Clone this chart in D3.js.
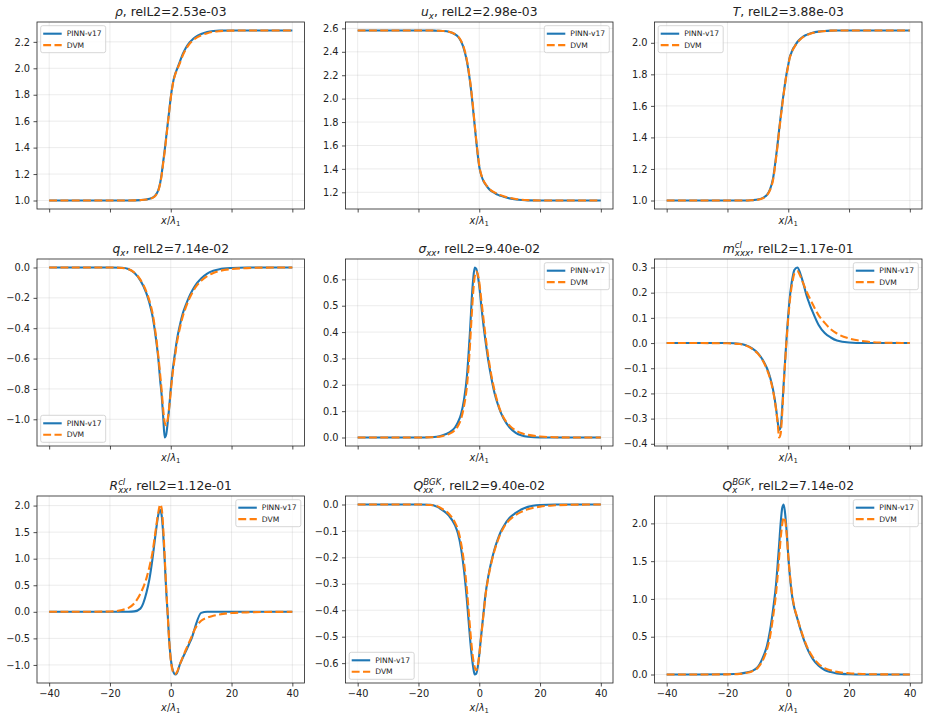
<!DOCTYPE html>
<html>
<head>
<meta charset="utf-8">
<script src="https://cdn.jsdelivr.net/npm/d3@7"></script>
<style>
  body { margin: 0; background: #fff; }
  svg { font-family: "DejaVu Sans", sans-serif; }
</style>
</head>
<body>
<script>

// shared x positions (x / lambda_1) the curves were read at
const xGrid = [-40,-30,-20,-16,-14,-12,-10,-8,-7,-6,-5,-4,-3.5,-3,-2.5,-2,-1.5,-1,-0.5,0,0.5,1,1.5,2,3,4,5,6,7,8,10,12,14,16,20,25,30,40];
const xTicks = [-40, -20, 0, 20, 40];
const seriesNames = ["PINN-v17", "DVM"];

// rho
const rhoPinn = [1.0,1.0,1.0,1.0,1.0,1.001,1.003,1.008,1.013,1.022,1.04,1.085,1.13,1.20,1.29,1.38,1.48,1.58,1.68,1.78,1.86,1.92,1.96,1.99,2.05,2.11,2.155,2.19,2.215,2.235,2.26,2.275,2.282,2.285,2.286,2.286,2.286,2.286];
const rhoDvm  = [1.0,1.0,1.0,1.0,1.0,1.001,1.003,1.007,1.012,1.02,1.037,1.08,1.125,1.19,1.28,1.37,1.47,1.575,1.675,1.775,1.855,1.915,1.955,1.985,2.04,2.10,2.145,2.18,2.205,2.225,2.25,2.266,2.276,2.281,2.285,2.286,2.286,2.286];
const rhoTicks = [1.0, 1.2, 1.4, 1.6, 1.8, 2.0, 2.2];

// u_x
const uPinn = [2.582,2.582,2.582,2.582,2.58,2.578,2.572,2.55,2.53,2.49,2.42,2.31,2.23,2.14,2.03,1.90,1.77,1.64,1.52,1.42,1.36,1.32,1.29,1.27,1.235,1.21,1.195,1.18,1.17,1.162,1.148,1.139,1.134,1.131,1.13,1.13,1.13,1.13];
const uDvm  = [2.582,2.582,2.582,2.582,2.58,2.578,2.572,2.552,2.532,2.495,2.43,2.32,2.24,2.15,2.04,1.92,1.78,1.65,1.53,1.43,1.365,1.325,1.295,1.273,1.24,1.215,1.2,1.186,1.176,1.167,1.153,1.143,1.137,1.133,1.13,1.13,1.13,1.13];
const uTicks = [1.2, 1.4, 1.6, 1.8, 2.0, 2.2, 2.4, 2.6];

// T
const tPinn = [1.0,1.0,1.0,1.0,1.0,1.002,1.006,1.02,1.035,1.07,1.14,1.28,1.36,1.45,1.53,1.61,1.68,1.75,1.81,1.86,1.91,1.935,1.96,1.975,2.005,2.025,2.04,2.05,2.058,2.064,2.071,2.075,2.077,2.078,2.078,2.078,2.078,2.078];
const tDvm  = [1.0,1.0,1.0,1.0,1.0,1.002,1.005,1.018,1.033,1.066,1.13,1.27,1.35,1.44,1.52,1.60,1.675,1.745,1.805,1.855,1.905,1.93,1.955,1.972,2.002,2.022,2.037,2.048,2.056,2.062,2.07,2.074,2.077,2.078,2.078,2.078,2.078,2.078];
const tTicks = [1.0, 1.2, 1.4, 1.6, 1.8, 2.0];

// q_x
const qPinn = [0,0,0,-0.002,-0.01,-0.035,-0.085,-0.17,-0.235,-0.32,-0.45,-0.62,-0.74,-0.84,-0.98,-1.12,-1.10,-1.02,-0.92,-0.80,-0.70,-0.62,-0.55,-0.48,-0.38,-0.30,-0.245,-0.195,-0.155,-0.12,-0.072,-0.04,-0.022,-0.011,-0.003,0,0,0];
const qDvm  = [0,0,0,-0.003,-0.01,-0.033,-0.08,-0.16,-0.22,-0.30,-0.43,-0.60,-0.70,-0.81,-0.93,-1.02,-1.04,-1.00,-0.92,-0.82,-0.72,-0.64,-0.57,-0.50,-0.40,-0.32,-0.26,-0.21,-0.17,-0.135,-0.088,-0.057,-0.036,-0.023,-0.01,-0.004,-0.001,0];
const qTicks = [-1.0, -0.8, -0.6, -0.4, -0.2, 0.0];

// sigma_xx
const sigPinn = [0,0,0,0.001,0.003,0.009,0.018,0.038,0.058,0.088,0.145,0.24,0.32,0.41,0.52,0.60,0.645,0.64,0.615,0.575,0.52,0.465,0.415,0.37,0.29,0.225,0.17,0.13,0.097,0.072,0.038,0.018,0.008,0.003,0,0,0,0];
const sigDvm  = [0,0,0,0.001,0.002,0.006,0.013,0.028,0.044,0.07,0.12,0.20,0.27,0.36,0.46,0.55,0.61,0.63,0.62,0.59,0.54,0.49,0.44,0.39,0.305,0.235,0.18,0.135,0.10,0.076,0.045,0.027,0.016,0.01,0.004,0.001,0,0];
const sigTicks = [0.0, 0.1, 0.2, 0.3, 0.4, 0.5, 0.6];

// m_xxx^cl
const mPinn = [0,0,0,-0.003,-0.009,-0.02,-0.04,-0.075,-0.10,-0.135,-0.185,-0.26,-0.31,-0.345,-0.335,-0.26,-0.16,-0.065,0.03,0.11,0.18,0.23,0.265,0.29,0.30,0.275,0.235,0.19,0.155,0.125,0.072,0.04,0.022,0.01,0.002,0,0,0];
const mDvm  = [0,0,-0.001,-0.004,-0.01,-0.022,-0.042,-0.078,-0.105,-0.14,-0.19,-0.265,-0.315,-0.375,-0.36,-0.28,-0.17,-0.07,0.02,0.10,0.165,0.215,0.25,0.275,0.285,0.265,0.235,0.205,0.18,0.155,0.11,0.08,0.055,0.038,0.018,0.007,0.002,0];
const mTicks = [-0.4, -0.3, -0.2, -0.1, 0.0, 0.1, 0.2, 0.3];

// R_xx^cl
const rPinn = [0,0,0,0,0.001,0.008,0.06,0.36,0.62,1.0,1.46,1.85,1.92,1.82,1.48,0.98,0.40,-0.05,-0.55,-0.88,-1.06,-1.15,-1.18,-1.16,-0.99,-0.86,-0.74,-0.61,-0.48,-0.29,-0.02,0,0,0,0,0,0,0];
const rDvm  = [0,0,0.005,0.035,0.07,0.16,0.34,0.63,0.85,1.12,1.52,1.90,2.02,1.95,1.60,1.05,0.45,-0.05,-0.55,-0.90,-1.08,-1.16,-1.17,-1.14,-0.99,-0.85,-0.71,-0.58,-0.45,-0.32,-0.17,-0.11,-0.075,-0.05,-0.022,-0.01,-0.004,0];
const rTicks = [-1.0, -0.5, 0.0, 0.5, 1.0, 1.5, 2.0];

// Q_xx^BGK
const qxxPinn = [0,0,0,-0.001,-0.008,-0.022,-0.042,-0.078,-0.11,-0.165,-0.25,-0.37,-0.44,-0.51,-0.57,-0.615,-0.643,-0.64,-0.615,-0.57,-0.51,-0.455,-0.40,-0.345,-0.27,-0.215,-0.17,-0.135,-0.105,-0.083,-0.05,-0.032,-0.018,-0.009,-0.002,0,0,0];
const qxxDvm  = [0,0,0,-0.002,-0.006,-0.018,-0.035,-0.068,-0.095,-0.145,-0.22,-0.33,-0.40,-0.47,-0.535,-0.585,-0.615,-0.627,-0.61,-0.57,-0.515,-0.46,-0.405,-0.35,-0.275,-0.22,-0.175,-0.14,-0.11,-0.088,-0.058,-0.04,-0.027,-0.018,-0.008,-0.003,-0.001,0];
const qxxTicks = [-0.6, -0.5, -0.4, -0.3, -0.2, -0.1, 0.0];

// Q_x^BGK
const qbPinn = [0,0,0.003,0.01,0.025,0.045,0.10,0.26,0.38,0.58,0.86,1.20,1.45,1.72,2.0,2.2,2.25,2.12,1.88,1.57,1.32,1.12,0.98,0.88,0.74,0.60,0.475,0.37,0.28,0.21,0.115,0.06,0.032,0.015,0.004,0,0,0];
const qbDvm  = [0,0,0.002,0.008,0.02,0.04,0.09,0.22,0.33,0.50,0.76,1.08,1.30,1.55,1.80,1.98,2.08,2.03,1.85,1.58,1.34,1.15,1.0,0.89,0.75,0.61,0.49,0.385,0.30,0.235,0.14,0.085,0.055,0.035,0.016,0.006,0.002,0];
const qbTicks = [0.0, 0.5, 1.0, 1.5, 2.0];

// titles as math pieces: i = italic, n = normal, sub / sup = small italic
const titles = [
  [["ρ","i"],[", relL2=2.53e-03","n"]],
  [["u","i"],["x","sub"],[", relL2=2.98e-03","n"]],
  [["T","i"],[", relL2=3.88e-03","n"]],
  [["q","i"],["x","sub"],[", relL2=7.14e-02","n"]],
  [["σ","i"],["xx","sub"],[", relL2=9.40e-02","n"]],
  [["m","i"],["cl","sup"],["xxx","sub"],[", relL2=1.17e-01","n"]],
  [["R","i"],["cl","sup"],["xx","sub"],[", relL2=1.12e-01","n"]],
  [["Q","i"],["BGK","sup"],["xx","sub"],[", relL2=9.40e-02","n"]],
  [["Q","i"],["BGK","sup"],["x","sub"],[", relL2=7.14e-02","n"]]
];
const xLabel = [["x","i"],["/","n"],["λ","i"],["1","subn"]];

const pinnSeries = [rhoPinn, uPinn, tPinn, qPinn, sigPinn, mPinn, rPinn, qxxPinn, qbPinn];
const dvmSeries  = [rhoDvm, uDvm, tDvm, qDvm, sigDvm, mDvm, rDvm, qxxDvm, qbDvm];
const yTickSets  = [rhoTicks, uTicks, tTicks, qTicks, sigTicks, mTicks, rTicks, qxxTicks, qbTicks];
const legendLoc  = ["ul", "ur", "ul", "ll", "ur", "ur", "ur", "ll", "ur"];

// Layout
var colX = [37, 345.5, 654.5],
    rowY = [22, 259, 496],
    W = 267.5,
    H = 187;

var blue = "#1f77b4", orange = "#ff7f0e", ink = "#222";

var svg = d3.select("body").append("svg")
   .attr("width", 928)
   .attr("height", 720);
svg.append("rect").attr("width", 928).attr("height", 720).attr("fill", "#fff");

// draws a small mathtext-like string, returns its width
function mathText(g, parts, size) {
    var x = 0, supX = 0, supW = 0, prev = null;
    parts.forEach(function(p) {
        var k = p[1];
        var small = (k === "sub" || k === "sup" || k === "subn");
        var dy = (k === "sub" || k === "subn") ? size * 0.24 : (k === "sup" ? -size * 0.42 : 0);
        var startX = (k === "sub" && prev === "sup") ? supX : x;
        var el = g.append("text")
            .attr("x", startX)
            .attr("y", dy)
            .attr("font-size", small ? size * 0.7 : size)
            .style("font-style", (k === "n" || k === "subn") ? "normal" : "italic")
            .attr("fill", ink)
            .text(p[0]);
        var w = el.node().getComputedTextLength();
        if (k === "sup") { supX = startX; supW = w; x = startX + w; }
        else if (k === "sub" && prev === "sup") { x = supX + Math.max(supW, w); }
        else { x = startX + w; }
        prev = k;
    });
    return x;
}

pinnSeries.forEach(function(pinn, i) {
    var row = Math.floor(i / 3), col = i % 3;
    var left = colX[col], top = rowY[row];
    var dvm = dvmSeries[i];

    // Scales: matplotlib-like 5% margins
    var xScale = d3.scaleLinear().domain([-44, 44]).range([left, left + W]);
    var lo = Math.min(d3.min(pinn), d3.min(dvm)),
        hi = Math.max(d3.max(pinn), d3.max(dvm)),
        pad = (hi - lo) * 0.05;
    var yScale = d3.scaleLinear().domain([lo - pad, hi + pad]).range([top + H, top]);

    var g = svg.append("g");

    // grid
    g.selectAll(".gx").data(xTicks).enter().append("line")
        .attr("x1", function(d) { return xScale(d); })
        .attr("x2", function(d) { return xScale(d); })
        .attr("y1", top).attr("y2", top + H)
        .attr("stroke", "#b0b0b0").attr("stroke-opacity", 0.3).attr("stroke-width", 0.8);
    g.selectAll(".gy").data(yTickSets[i]).enter().append("line")
        .attr("y1", function(d) { return yScale(d); })
        .attr("y2", function(d) { return yScale(d); })
        .attr("x1", left).attr("x2", left + W)
        .attr("stroke", "#b0b0b0").attr("stroke-opacity", 0.3).attr("stroke-width", 0.8);

    // Lines
    var pts = function(vals) { return xGrid.map(function(x, j) { return [x, vals[j]]; }); };
    var line = d3.line()
        .x(function(d) { return xScale(d[0]); })
        .y(function(d) { return yScale(d[1]); })
        .curve(d3.curveMonotoneX);

    g.append("path")
        .attr("d", line(pts(pinn)))
        .attr("fill", "none").attr("stroke", blue).attr("stroke-width", 2.1);
    g.append("path")
        .attr("d", line(pts(dvm)))
        .attr("fill", "none").attr("stroke", orange).attr("stroke-width", 2.1)
        .attr("stroke-dasharray", "7.9,3.4");

    // Axes
    var yaxis = d3.axisLeft(yScale)
        .tickValues(yTickSets[i])
        .tickSize(3.5).tickPadding(3.5)
        .tickFormat(d3.format(".1f"));
    var xaxis = d3.axisBottom(xScale)
        .tickValues(xTicks)
        .tickSize(3.5).tickPadding(3.5)
        .tickFormat(row === 2 ? d3.format("d") : function() { return ""; });

    [g.append("g").attr("transform", "translate(" + left + ",0)").call(yaxis),
     g.append("g").attr("transform", "translate(0," + (top + H) + ")").call(xaxis)]
    .forEach(function(a) {
        a.select(".domain").remove();
        a.selectAll("line").attr("stroke", ink).attr("stroke-width", 0.8);
        a.selectAll("text").attr("fill", ink)
            .style("font-family", "DejaVu Sans").style("font-size", "9.8px");
    });

    // spines
    g.append("rect")
        .attr("x", left).attr("y", top).attr("width", W).attr("height", H)
        .attr("fill", "none").attr("stroke", ink).attr("stroke-width", 0.8);

    // title
    var tg = g.append("g");
    var tw = mathText(tg, titles[i], 12.3);
    tg.attr("transform", "translate(" + (left + W / 2 - tw / 2) + "," + (top - 6) + ")");

    // x label
    var lg = g.append("g");
    var lw = mathText(lg, xLabel, 9.8);
    var ly = row === 2 ? top + H + 28 : top + H + 15;
    lg.attr("transform", "translate(" + (left + W / 2 - lw / 2) + "," + ly + ")");

    // legend
    var bw = 65, bh = 27, inset = 3.7;
    var bx = legendLoc[i] === "ur" ? left + W - inset - bw : left + inset;
    var by = legendLoc[i] === "ll" ? top + H - inset - bh : top + inset;
    var leg = g.append("g").attr("transform", "translate(" + bx + "," + by + ")");
    leg.append("rect")
        .attr("width", bw).attr("height", bh).attr("rx", 2)
        .attr("fill", "#fff").attr("fill-opacity", 0.8)
        .attr("stroke", "#cccccc").attr("stroke-width", 0.8);
    seriesNames.forEach(function(name, k) {
        var cy = 8 + k * 11.4;
        leg.append("line")
            .attr("x1", 2.5).attr("x2", 21).attr("y1", cy).attr("y2", cy)
            .attr("stroke", k === 0 ? blue : orange).attr("stroke-width", 2.1)
            .attr("stroke-dasharray", k === 0 ? null : "7.9,3.4");
        leg.append("text")
            .attr("x", 26).attr("y", cy + 2.8)
            .attr("font-size", 7.6).attr("fill", ink)
            .text(name);
    });
});

</script>
</body>
</html>
